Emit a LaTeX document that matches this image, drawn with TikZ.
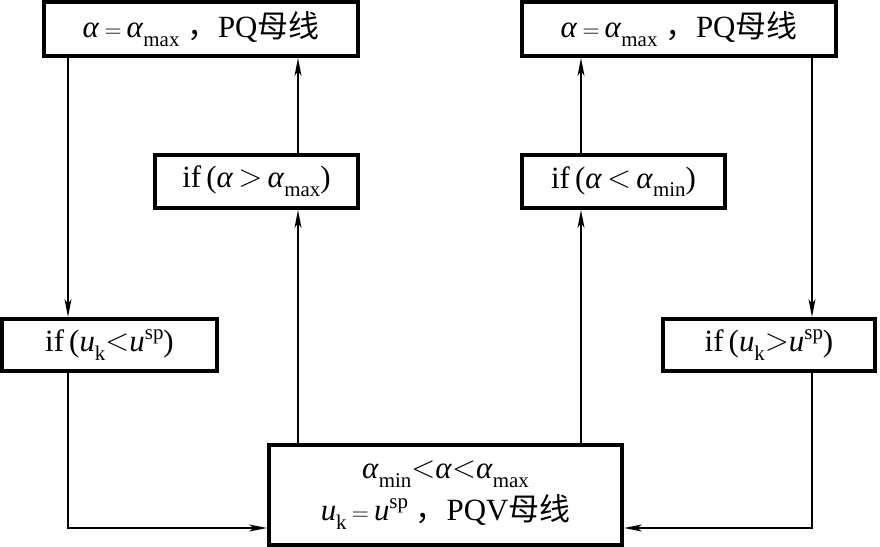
\documentclass[tikz,border=0pt]{standalone}
\usepackage{fontspec}
\usepackage{graphicx}
\setmainfont{Liberation Serif}
\newfontfamily\cjk{Noto Sans CJK SC}
\usetikzlibrary{arrows.meta}
\newcommand\al{\textit{α}}
\newcommand\uu{\textit{u}}
\newcommand\sbx[1]{\raisebox{-0.28em}{\fontsize{21}{21}\selectfont #1}}
\newcommand\spx[1]{\raisebox{0.38em}{\fontsize{21}{21}\selectfont #1}}
\newcommand\rel[1]{\raisebox{1bp}{\resizebox{24bp}{!}{$#1$}}}
\newcommand\lt{\,\rel{<}\,}
\newcommand\gt{\,\rel{>}\,}
\newcommand\eq{\,\resizebox{17bp}{!}{$=$}\,}
\tikzset{
  box/.style={draw=black, line width=4bp, inner sep=0pt, align=center,
    font=\fontsize{31}{36}\selectfont},
  arr/.style={line width=1.6bp, -{Stealth[length=18bp,width=7bp,inset=5bp]}},
  ln/.style={line width=1.6bp}
}
\begin{document}
\begin{tikzpicture}[x=1bp,y=-1bp]
\useasboundingbox (0,0) rectangle (880,547);
\node[box, minimum width=314bp, minimum height=54bp] (TL) at (201,29) {\al\eq\al\sbx{max} {\cjk ，}PQ{\cjk 母线}};
\node[box, minimum width=314bp, minimum height=54bp] (TR) at (679,29) {\al\eq\al\sbx{max} {\cjk ，}PQ{\cjk 母线}};
\node[box, minimum width=203bp, minimum height=53bp] (ML) at (256.5,181.5) {if\,(\al\gt\al\sbx{max})};
\node[box, minimum width=203bp, minimum height=53bp] (MR) at (623.5,181.5) {if\,(\al\lt\al\sbx{min})};
\node[box, minimum width=215bp, minimum height=52bp] (L) at (109.5,345) {if\,(\uu\sbx{k}\rel{<}\uu\spx{sp})};
\node[box, minimum width=212bp, minimum height=52bp] (R) at (769,345) {if\,(\uu\sbx{k}\rel{>}\uu\spx{sp})};
\node[box, minimum width=353bp, minimum height=100bp] (B) at (445.5,495) {\raisebox{-4bp}{\al\sbx{min}\rel{<}\al\rel{<}\al\sbx{max}}\\[6bp]\uu\sbx{k}\eq\uu\spx{sp} {\cjk ，}PQV{\cjk 母线}};
\coordinate (xa) at (68,0);
\coordinate (xb) at (298,0);
\coordinate (xc) at (581,0);
\coordinate (xd) at (812,0);
\coordinate (yb) at (0,528);
\draw[arr] (TL.south -| xa) -- (L.north -| xa);
\draw[arr] (L.south -| xa) |- (B.west |- yb);
\draw[arr] (B.north -| xb) -- (ML.south -| xb);
\draw[arr] (ML.north -| xb) -- (TL.south -| xb);
\draw[arr] (B.north -| xc) -- (MR.south -| xc);
\draw[arr] (MR.north -| xc) -- (TR.south -| xc);
\draw[arr] (TR.south -| xd) -- (R.north -| xd);
\draw[arr] (R.south -| xd) |- (B.east |- yb);
\end{tikzpicture}
\end{document}
